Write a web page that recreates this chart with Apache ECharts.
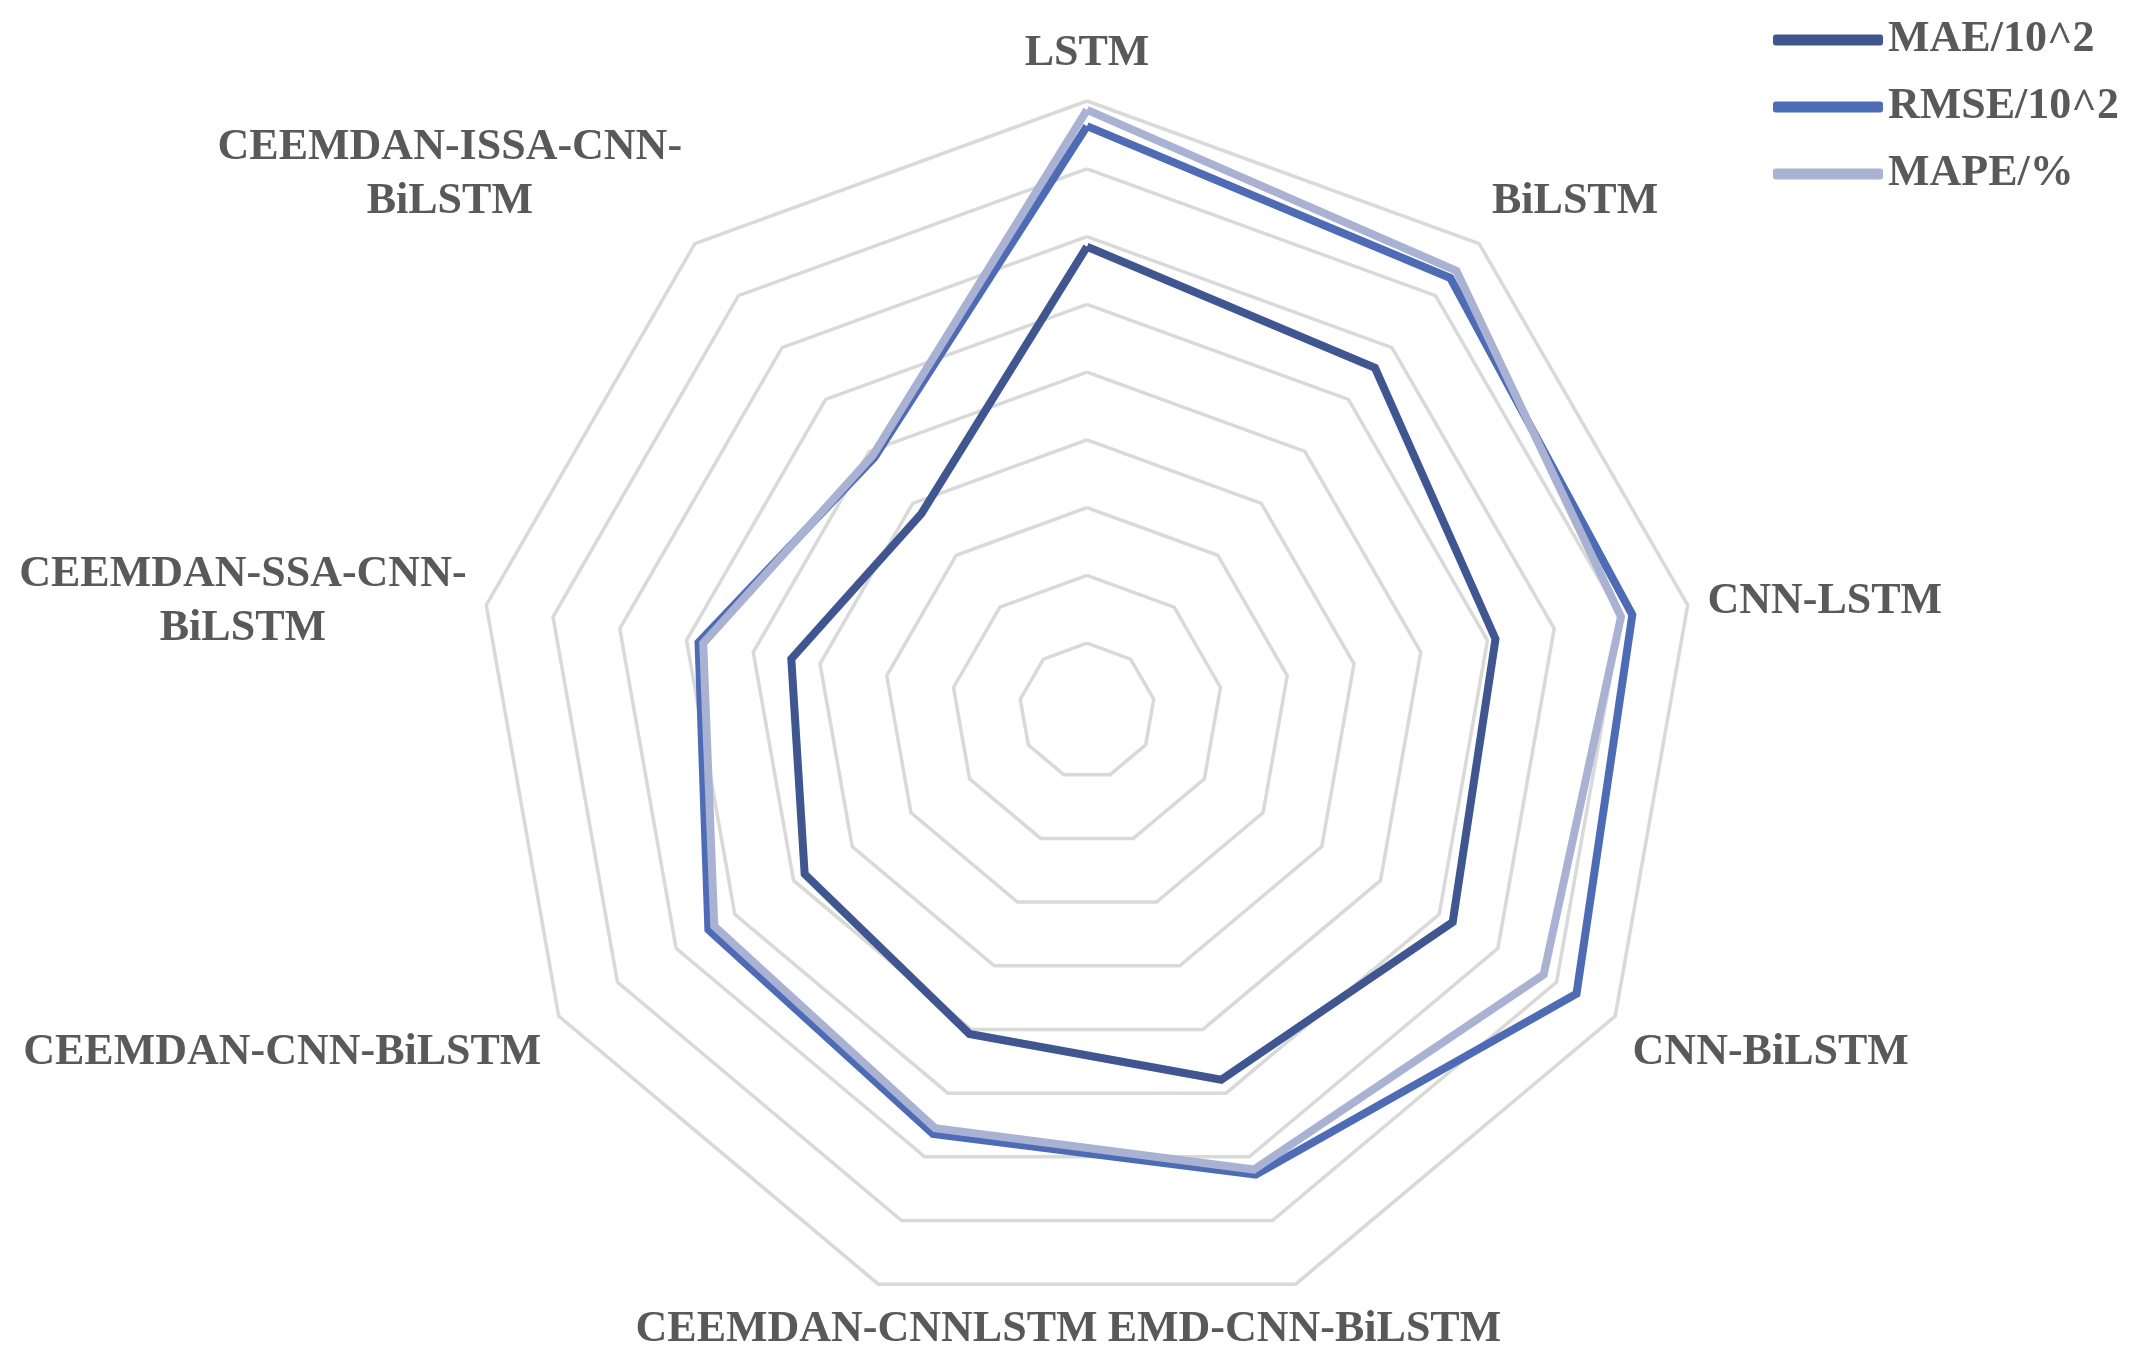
<!DOCTYPE html>
<html>
<head>
<meta charset="utf-8">
<script src="https://cdn.jsdelivr.net/npm/echarts@6/dist/echarts.min.js"></script>
<style>
  html, body { margin: 0; padding: 0; background: #ffffff; }
  #chart { width: 2135px; height: 1364px; }
</style>
</head>
<body>
<div id="chart"></div>
<script>
// Indicators listed clockwise starting from the top
const categories = [
  'LSTM',
  'BiLSTM',
  'CNN-LSTM',
  'CNN-BiLSTM',
  'EMD-CNN-BiLSTM',
  'CEEMDAN-CNNLSTM',
  'CEEMDAN-CNN-BiLSTM',
  'CEEMDAN-SSA-CNN-\nBiLSTM',
  'CEEMDAN-ISSA-CNN-\nBiLSTM'
];
const seriesNames = ['MAE/10^2', 'RMSE/10^2', 'MAPE/%'];
const maeValues  = [6.85, 6.61, 6.12, 6.23, 5.79, 5.07, 4.81, 4.43, 3.80];
const rmseValues = [8.63, 8.34, 8.17, 8.34, 7.28, 6.64, 6.45, 5.82, 4.88];
const mapeValues = [8.87, 8.48, 8.00, 7.78, 7.20, 6.55, 6.35, 5.75, 4.92];
const axisMax = 9;

const colors = ['#3F5691', '#4E6BB5', '#A9B2D3'];
const labelAlign  = ['center', 'left', 'left', 'left', 'center', 'center', 'right', 'right', 'right'];
const labelVAlign = ['bottom', 'bottom', 'middle', 'top', 'top', 'top', 'top', 'middle', 'bottom'];
const labelPad    = [[0,0,0,0],[0,0,0,0],[0,0,0,0],[0,0,0,0],[0,0,0,4],[0,10,0,0],[0,0,0,0],[0,0,0,0],[0,0,0,0]];

// ECharts places radar indicators counter-clockwise; reorder so that the picture runs clockwise
const order = [0, 8, 7, 6, 5, 4, 3, 2, 1];
const reorder = arr => order.map(i => arr[i]);

const indicators = order.map(i => ({
  name: categories[i],
  min: 0,
  max: axisMax,
  nameTextStyle: { align: labelAlign[i], verticalAlign: labelVAlign[i], padding: labelPad[i] }
}));

const fontFamily = '"Liberation Serif", "Times New Roman", serif';
const allValues = [maeValues, rmseValues, mapeValues];

const chart = echarts.init(document.getElementById('chart'), null, { renderer: 'canvas' });
chart.setOption({
  backgroundColor: '#ffffff',
  animation: false,
  legend: {
    orient: 'vertical',
    left: 1768,
    top: 13,
    itemWidth: 110,
    itemHeight: 11,
    itemGap: 23,
    icon: 'roundRect',
    data: seriesNames,
    textStyle: {
      fontFamily: fontFamily,
      fontWeight: 'bold',
      fontSize: 44,
      lineHeight: 44,
      color: '#595959'
    }
  },
  radar: {
    center: [1087, 711],
    radius: 610,
    startAngle: 90,
    shape: 'polygon',
    splitNumber: 9,
    nameGap: 20,
    indicator: indicators,
    axisName: {
      color: '#595959',
      fontFamily: fontFamily,
      fontWeight: 'bold',
      fontSize: 44,
      lineHeight: 54,
      formatter: function (name) {
        return name.split('\n').map(s => '{c|' + s + '}').join('\n');
      },
      rich: {
        c: {
          align: 'center',
          color: '#595959',
          fontFamily: fontFamily,
          fontWeight: 'bold',
          fontSize: 44,
          lineHeight: 54
        }
      }
    },
    splitLine: { lineStyle: { color: '#D9D9D9', width: 3.5 } },
    splitArea: { show: false },
    axisLine: { show: false },
    axisTick: { show: false },
    axisLabel: { show: false }
  },
  series: seriesNames.map((name, si) => ({
    type: 'radar',
    name: name,
    symbol: 'none',
    silent: true,
    z: 2 + si,
    itemStyle: { color: colors[si] },
    lineStyle: { color: colors[si], width: 8, join: 'miter' },
    data: [{ name: name, value: reorder(allValues[si]) }]
  }))
});
</script>
</body>
</html>
